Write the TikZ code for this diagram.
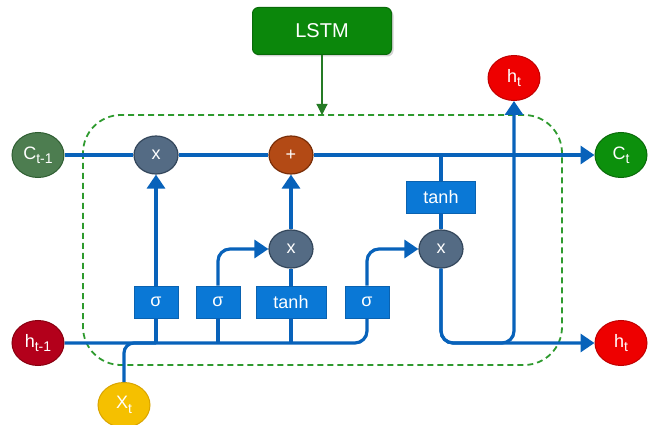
\documentclass[tikz,border=0pt]{standalone}
\usepackage{fontspec}
\setmainfont{Liberation Sans}
\usetikzlibrary{arrows.meta,shapes.geometric,shadows,calc}
\definecolor{lineblue}{HTML}{0862BA}
\definecolor{boxblue}{HTML}{0A78D6}
\definecolor{boxborder}{HTML}{0A62B0}
\definecolor{gatefill}{HTML}{546B84}
\definecolor{gateborder}{HTML}{34475C}
\definecolor{plusfill}{HTML}{B34A15}
\definecolor{plusborder}{HTML}{7A2E08}
\definecolor{ctmfill}{HTML}{4D7D50}
\definecolor{ctmborder}{HTML}{2F5E32}
\definecolor{ctfill}{HTML}{0C900C}
\definecolor{ctborder}{HTML}{0A6A0A}
\definecolor{htmfill}{HTML}{B3001B}
\definecolor{htmborder}{HTML}{880010}
\definecolor{htfill}{HTML}{EE0000}
\definecolor{htborder}{HTML}{C00000}
\definecolor{xtfill}{HTML}{F5C000}
\definecolor{xtborder}{HTML}{D9A400}
\definecolor{dashgreen}{HTML}{2E9A2E}
\definecolor{lstmfill}{HTML}{0B870B}
\definecolor{lstmborder}{HTML}{096B09}
\newcommand\mysub[1]{\raisebox{-0.45ex}{\fontsize{14}{14}\selectfont #1}}
\begin{document}
\begin{tikzpicture}[x=1pt,y=-1pt,
  txt/.style={text=white,font=\fontsize{18}{18}\selectfont},
  io/.style={ellipse,draw,line width=1pt,inner sep=0pt,minimum width=52pt,minimum height=45pt,txt},
  gate/.style={ellipse,draw=gateborder,fill=gatefill,line width=1.2pt,inner sep=0pt,minimum width=44pt,minimum height=38pt,txt},
  layer/.style={rectangle,draw=boxborder,fill=boxblue,line width=0.8pt,inner sep=0pt,minimum height=32pt,txt},
  wire/.style={draw=lineblue,line width=3.2pt},
  arr/.style={wire,-{Triangle[length=14pt,width=18pt]}},
  rc/.style={rounded corners=12pt}
]
\useasboundingbox (0,0) rectangle (654,425);

% dashed cell boundary
\draw[dashgreen,line width=1.8pt,dash pattern=on 6pt off 4pt,rounded corners=38pt] (83,115) rectangle (562,365);

% LSTM box
\node[rectangle,rounded corners=6pt,draw=lstmborder,fill=lstmfill,line width=1pt,
  minimum width=139pt,minimum height=47pt,txt,font=\fontsize{20}{20}\selectfont,
  drop shadow={shadow xshift=2pt,shadow yshift=-2pt,opacity=0.35}] (lstm) at (322,31) {LSTM};
\coordinate (celltop) at (322,115);
\draw[dashgreen!80!black,line width=1.2pt,-{Triangle[length=11pt,width=11pt]}] (lstm.south) -- (celltop);

% terminals
\node[io,draw=ctmborder,fill=ctmfill] (ctm) at (38,155) {C\mysub{t-1}};
\node[io,draw=ctborder,fill=ctfill] (ct) at (621,155) {C\mysub{t}};
\node[io,draw=htmborder,fill=htmfill] (htm) at (38,343) {h\mysub{t-1}};
\node[io,draw=htborder,fill=htfill] (htr) at (621,343) {h\mysub{t}};
\node[io,draw=htborder,fill=htfill] (htop) at (514,78) {h\mysub{t}};
\node[io,draw=xtborder,fill=xtfill] (xt) at (124,405) {X\mysub{t}};

% gates
\node[gate] (x1) at (156,155) {x};
\node[gate,draw=plusborder,fill=plusfill] (plus) at (291,155) {+};
\node[gate] (x2) at (291,249) {x};
\node[gate] (x3) at (441,249) {x};

% layers
\node[layer,minimum width=44pt] (s1) at (156,302) {σ};
\node[layer,minimum width=44pt] (s2) at (218,302) {σ};
\node[layer,minimum width=70pt] (th1) at (291,302) {tanh};
\node[layer,minimum width=44pt] (s4) at (367,302) {σ};
\node[layer,minimum width=69pt] (th2) at (441,197) {tanh};

% cell state line
\draw[wire] (ctm) -- (x1);
\draw[wire] (x1) -- (plus);
\draw[arr] (plus) -- (ct);

% input line
\draw[wire,rc] (htm.east) -| (s4.south);
\draw[wire,rounded corners=10pt] (xt.north) |- (s1.south |- htm.east);
\draw[wire] (s1.south |- htm.east) -- (s1.south);
\draw[wire] (s2.south |- htm.east) -- (s2.south);
\draw[wire] (th1.south |- htm.east) -- (th1.south);

% gate connections
\draw[arr] (s1.north) -- (x1.south);
\draw[arr,rc] (s2.north) |- (x2.west);
\draw[wire] (th1.north) -- (x2.south);
\draw[arr] (x2.north) -- (plus.south);
\draw[arr,rc] (s4.north) |- (x3.west);
\draw[wire] (th2.north |- ct.west) -- (th2.north);
\draw[wire] (th2.south) -- (x3.north);

% output
\draw[arr,rc] (x3.south) |- (htr.west);
\draw[arr,rc] (x3.south) |- (htop.south |- htr.west) -- (htop.south);
\end{tikzpicture}
\end{document}
